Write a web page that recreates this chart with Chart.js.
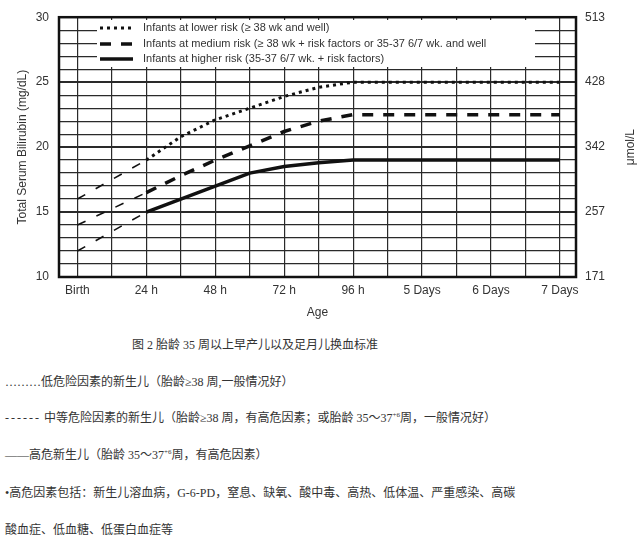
<!DOCTYPE html>
<html lang="zh-CN">
<head>
    <meta charset="UTF-8">
    <title>胎龄35周以上早产儿以及足月儿换血标准</title>
    <script src="https://cdn.jsdelivr.net/npm/chart.js"></script>
    <style>
        body { margin: 0; background: #fff; }
        .page { position: relative; width: 640px; height: 550px; overflow: hidden; }
        .chart-box { position: absolute; left: 0; top: 0; width: 640px; height: 330px; }
        .note {
            position: absolute; left: 5px;
            font-family: "Liberation Serif", "Noto Sans CJK SC", serif;
            font-size: 12px; line-height: 16px; color: #333; white-space: nowrap;
        }
        .note sup { font-size: 7px; line-height: 0; }
        .caption { left: 132px; top: 337px; }
        .dash { letter-spacing: 2px; }
    </style>
</head>
<body>
<div class="page">
    <div class="chart-box"><canvas id="exchangeChart"></canvas></div>

    <div class="note caption">图 2 胎龄 35 周以上早产儿以及足月儿换血标准</div>
    <div class="note" style="top:374px">………低危险因素的新生儿（胎龄≥38 周,一般情况好）</div>
    <div class="note" style="top:410px"><span class="dash">------</span> 中等危险因素的新生儿（胎龄≥38 周，有高危因素；或胎龄 35～37<sup>+6</sup>周，一般情况好）</div>
    <div class="note" style="top:447px">——高危新生儿（胎龄 35～37<sup>+6</sup>周，有高危因素）</div>
    <div class="note" style="top:485px">•高危因素包括：新生儿溶血病，G-6-PD，窒息、缺氧、酸中毒、高热、低体温、严重感染、高碳</div>
    <div class="note" style="top:522px">酸血症、低血糖、低蛋白血症等</div>
</div>

<script>
    // values: age in hours, total serum bilirubin in mg/dL
    const ageHours   = [0, 24, 36, 48, 60, 72, 84, 96, 168];
    const lowerRisk  = [16, 19, 20.8, 22.1, 23.0, 23.9, 24.6, 25, 25];
    const mediumRisk = [14, 16.5, 17.8, 19.0, 20.1, 21.2, 22.0, 22.5, 22.5];
    const higherRisk = [12, 15, 16.0, 17.0, 18.0, 18.5, 18.8, 19, 19];

    const ageTickValues = [0, 24, 48, 72, 96, 120, 144, 168];
    const ageTickLabels = ['Birth', '24 h', '48 h', '72 h', '96 h', '5 Days', '6 Days', '7 Days'];
    const umolTicks = [171, 257, 342, 428, 513];

    const seriesLabels = [
        'Infants at lower risk (\u2265 38 wk and well)',
        'Infants at medium risk (\u2265 38 wk + risk factors or 35-37 6/7 wk. and well',
        'Infants at higher risk (35-37 6/7 wk. + risk factors)'
    ];

    Chart.defaults.font.family = '"Liberation Sans", Arial, sans-serif';
    Chart.defaults.color = '#333';

    // birth to 24 h is drawn as a thin dashed line for every curve
    const earlySegment = {
        borderDash: ctx => ctx.p1.parsed.x <= 24 ? [9, 12] : undefined,
        borderWidth: ctx => ctx.p1.parsed.x <= 24 ? 1.6 : undefined
    };

    function toPoints(values) {
        return ageHours.map((h, i) => ({ x: h, y: values[i] }));
    }

    // white key box inside the plot, thick frame, right axis title
    const frameAndKey = {
        id: 'frameAndKey',
        beforeDatasetsDraw(chart) {
            const ctx = chart.ctx;
            ctx.save();
            ctx.fillStyle = '#fff';
            ctx.fillRect(97, 20, 438, 47);
            ctx.restore();
        },
        afterDatasetsDraw(chart) {
            const ctx = chart.ctx;
            const a = chart.chartArea;
            ctx.save();
            ctx.strokeStyle = '#111';
            ctx.lineWidth = 2.5;
            ctx.strokeRect(a.left, a.top, a.right - a.left, a.bottom - a.top);

            const rows = [28, 44, 59];
            ctx.font = '11px "Liberation Sans", Arial, sans-serif';
            ctx.textBaseline = 'middle';
            chart.data.datasets.forEach((ds, i) => {
                ctx.strokeStyle = ds.borderColor;
                ctx.lineWidth = ds.borderWidth;
                ctx.setLineDash(ds.borderDash || []);
                ctx.beginPath();
                ctx.moveTo(100, rows[i]);
                ctx.lineTo(133, rows[i]);
                ctx.stroke();
                ctx.fillStyle = '#333';
                ctx.fillText(ds.label, 143, rows[i]);
            });
            ctx.setLineDash([]);

            ctx.translate(631, (a.top + a.bottom) / 2);
            ctx.rotate(-Math.PI / 2);
            ctx.font = '12px "Liberation Sans", Arial, sans-serif';
            ctx.textAlign = 'center';
            ctx.fillStyle = '#333';
            ctx.fillText('\u03bcmol/L', 0, 0);
            ctx.restore();
        }
    };

    new Chart(document.getElementById('exchangeChart'), {
        type: 'line',
        data: {
            datasets: [
                {
                    label: seriesLabels[0],
                    data: toPoints(lowerRisk),
                    borderColor: '#111', borderWidth: 3, borderDash: [3, 4],
                    pointRadius: 0, fill: false, segment: earlySegment
                },
                {
                    label: seriesLabels[1],
                    data: toPoints(mediumRisk),
                    borderColor: '#111', borderWidth: 3.5, borderDash: [11, 10],
                    pointRadius: 0, fill: false, segment: earlySegment
                },
                {
                    label: seriesLabels[2],
                    data: toPoints(higherRisk),
                    borderColor: '#111', borderWidth: 3.5,
                    pointRadius: 0, fill: false, segment: earlySegment
                }
            ]
        },
        options: {
            responsive: true,
            maintainAspectRatio: false,
            animation: false,
            layout: { padding: { top: 10, left: 0, right: 0, bottom: 0 } },
            plugins: { legend: { display: false }, tooltip: { enabled: false } },
            scales: {
                x: {
                    type: 'linear',
                    min: -6.4,
                    max: 173.6,
                    afterBuildTicks: scale => {
                        scale.ticks = [];
                        for (let h = 0; h <= 168; h += 12) scale.ticks.push({ value: h });
                    },
                    ticks: {
                        autoSkip: false, maxRotation: 0, padding: 6,
                        font: { size: 12 },
                        callback: v => {
                            const i = ageTickValues.indexOf(v);
                            return i < 0 ? '' : ageTickLabels[i];
                        }
                    },
                    grid: { color: '#2a2a2a', lineWidth: 1.2, drawTicks: false },
                    border: { display: false },
                    title: { display: true, text: 'Age', font: { size: 12 }, padding: { top: 0, bottom: 10 } },
                    afterFit: scale => { scale.height = 53; }
                },
                y: {
                    position: 'left',
                    min: 10,
                    max: 30,
                    ticks: {
                        stepSize: 1, autoSkip: false, padding: 10,
                        font: { size: 12 },
                        callback: v => v % 5 === 0 ? v : ''
                    },
                    grid: {
                        color: '#2a2a2a', drawTicks: false,
                        lineWidth: ctx => ctx.tick && ctx.tick.value % 5 === 0 ? 2 : 1.2
                    },
                    border: { display: false },
                    title: {
                        display: true, text: 'Total Serum Bilirubin (mg/dL)',
                        font: { size: 12 }, padding: { top: 15, bottom: 0 }
                    },
                    afterFit: scale => { scale.width = 59; }
                },
                y2: {
                    position: 'right',
                    min: 171,
                    max: 513,
                    afterBuildTicks: scale => {
                        scale.ticks = umolTicks.map(v => ({ value: v }));
                    },
                    ticks: { padding: 9, font: { size: 12 } },
                    grid: { display: false, drawTicks: false },
                    border: { display: false },
                    afterFit: scale => { scale.width = 64; }
                }
            }
        },
        plugins: [frameAndKey]
    });
</script>
</body>
</html>
